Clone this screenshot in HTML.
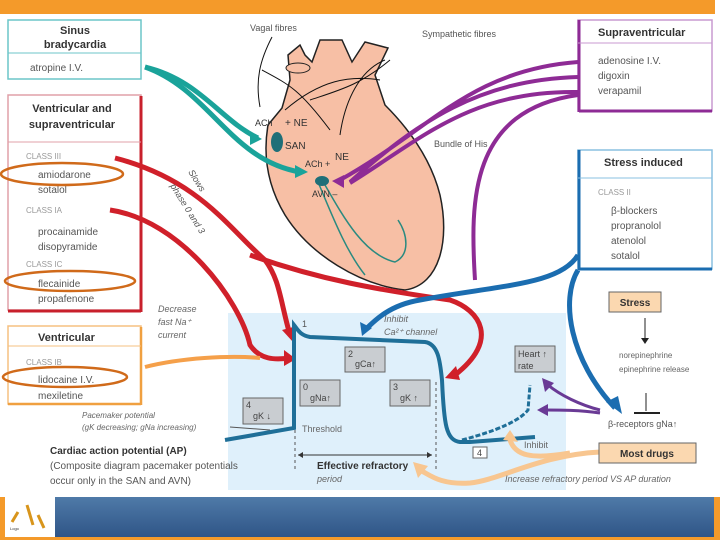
<!DOCTYPE html>
<html><head><meta charset="utf-8"><style>
html,body{margin:0;padding:0;background:#fff}
svg{display:block}
text{font-family:"Liberation Sans",sans-serif;}
</style></head><body>
<svg width="720" height="540" viewBox="0 0 720 540" xmlns="http://www.w3.org/2000/svg">
<defs>
<linearGradient id="bg" x1="0" y1="0" x2="0" y2="1"><stop offset="0" stop-color="#4f7aa8"/><stop offset="1" stop-color="#2f5587"/></linearGradient>
</defs>
<rect x="0" y="0" width="715" height="14" fill="#f49a2a"/>
<rect x="228" y="313" width="338" height="177" fill="#dff0fb"/>
<!-- heart -->
<path d="M268,125 C262,160 270,190 285,215 C310,255 360,285 405,290 C440,285 450,240 440,195 C430,155 405,125 385,105 L375,75 L388,48 L365,42 L352,62 L342,40 L320,40 L312,62 L305,55 L300,45 L288,55 L290,80 L282,108 Z" fill="#f7bfa5" stroke="#222" stroke-width="1.5"/>
<ellipse cx="298" cy="68" rx="12" ry="5" fill="#f7bfa5" stroke="#222"/>
<path d="M318,182 C330,210 345,250 365,275 M325,185 C345,220 365,255 395,262 C410,255 408,235 398,220" fill="none" stroke="#2a8a80" stroke-width="1.5"/>
<path d="M272,37 C260,60 255,80 260,107 M262,70 C290,85 300,90 330,130 M285,110 C320,80 350,75 380,80 M310,100 C340,90 360,85 390,60 M340,135 C345,100 360,70 385,60" fill="none" stroke="#111" stroke-width="1"/>
<ellipse cx="277" cy="142" rx="6" ry="10" fill="#1f6f78"/>
<ellipse cx="322" cy="181" rx="7" ry="5" fill="#1f6f78"/>
<text x="255" y="126" font-size="9" fill="#333">ACh</text>
<text x="285" y="126" font-size="10" fill="#333">+ NE</text>
<text x="285" y="149" font-size="10" fill="#333">SAN</text>
<text x="305" y="167" font-size="9" fill="#333">ACh +</text>
<text x="335" y="160" font-size="10" fill="#333">NE</text>
<text x="312" y="197" font-size="9" fill="#333">AVN  –</text>
<text x="250" y="31" font-size="9" fill="#555">Vagal fibres</text>
<text x="422" y="37" font-size="9" fill="#555">Sympathetic fibres</text>
<text x="434" y="147" font-size="9" fill="#555">Bundle of His</text>
<!-- boxes -->
<rect x="8" y="20" width="133" height="59" fill="#fff" stroke="#6cc6c9" stroke-width="1.5"/>
<line x1="8" y1="53" x2="141" y2="53" stroke="#6cc6c9"/>
<text x="75" y="34" font-size="11" font-weight="bold" text-anchor="middle" fill="#333">Sinus</text>
<text x="75" y="48" font-size="11" font-weight="bold" text-anchor="middle" fill="#333">bradycardia</text>
<text x="30" y="71" font-size="10" fill="#555">atropine I.V.</text>
<rect x="8" y="95" width="133" height="215" fill="#fff" stroke="#e0a0a8" stroke-width="1.5"/>
<line x1="141" y1="96" x2="141" y2="312" stroke="#c8202c" stroke-width="3"/>
<line x1="8" y1="311" x2="141" y2="311" stroke="#c8202c" stroke-width="3"/>
<line x1="8" y1="142" x2="141" y2="142" stroke="#e0a0a8"/>
<text x="72" y="112" font-size="11" font-weight="bold" text-anchor="middle" fill="#333">Ventricular and</text>
<text x="72" y="128" font-size="11" font-weight="bold" text-anchor="middle" fill="#333">supraventricular</text>
<text x="26" y="159" font-size="8" fill="#999">CLASS III</text>
<text x="38" y="178" font-size="10" fill="#555">amiodarone</text>
<text x="38" y="193" font-size="10" fill="#555">sotalol</text>
<text x="26" y="213" font-size="8" fill="#999">CLASS IA</text>
<text x="38" y="235" font-size="10" fill="#555">procainamide</text>
<text x="38" y="250" font-size="10" fill="#555">disopyramide</text>
<text x="26" y="267" font-size="8" fill="#999">CLASS IC</text>
<text x="38" y="287" font-size="10" fill="#555">flecainide</text>
<text x="38" y="302" font-size="10" fill="#555">propafenone</text>
<rect x="8" y="326" width="133" height="78" fill="#fff" stroke="#f5c080" stroke-width="1.5"/>
<line x1="141" y1="327" x2="141" y2="405" stroke="#f0a040" stroke-width="2.5"/>
<line x1="8" y1="404" x2="141" y2="404" stroke="#f0a040" stroke-width="2.5"/>
<line x1="8" y1="346" x2="141" y2="346" stroke="#f5c080"/>
<text x="38" y="341" font-size="11" font-weight="bold" fill="#333">Ventricular</text>
<text x="26" y="365" font-size="8" fill="#999">CLASS IB</text>
<text x="38" y="383" font-size="10" fill="#555">lidocaine I.V.</text>
<text x="38" y="399" font-size="10" fill="#555">mexiletine</text>
<rect x="578" y="20" width="134" height="91" fill="#fff" stroke="#c89ad0" stroke-width="1.5"/>
<line x1="579" y1="20" x2="579" y2="112" stroke="#8e2b95" stroke-width="3"/>
<line x1="579" y1="111" x2="712" y2="111" stroke="#8e2b95" stroke-width="3"/>
<line x1="578" y1="43" x2="712" y2="43" stroke="#c89ad0"/>
<text x="598" y="36" font-size="11" font-weight="bold" fill="#333">Supraventricular</text>
<text x="598" y="64" font-size="10" fill="#555">adenosine I.V.</text>
<text x="598" y="79" font-size="10" fill="#555">digoxin</text>
<text x="598" y="94" font-size="10" fill="#555">verapamil</text>
<rect x="578" y="150" width="134" height="119" fill="#fff" stroke="#8ac0e0" stroke-width="1.5"/>
<line x1="579" y1="150" x2="579" y2="270" stroke="#1b6db0" stroke-width="3"/>
<line x1="579" y1="269" x2="712" y2="269" stroke="#1b6db0" stroke-width="3"/>
<line x1="578" y1="178" x2="712" y2="178" stroke="#8ac0e0"/>
<text x="604" y="166" font-size="11" font-weight="bold" fill="#333">Stress induced</text>
<text x="598" y="195" font-size="8" fill="#999">CLASS II</text>
<text x="611" y="214" font-size="10" fill="#555">β-blockers</text>
<text x="611" y="229" font-size="10" fill="#555">propranolol</text>
<text x="611" y="244" font-size="10" fill="#555">atenolol</text>
<text x="611" y="259" font-size="10" fill="#555">sotalol</text>
<!-- connectors -->
<path d="M145,67 C200,80 220,120 258,138" fill="none" stroke="#1aa39a" stroke-width="5"/>
<path d="M145,67 C210,90 230,160 300,172" fill="none" stroke="#1aa39a" stroke-width="5"/>
<path d="M250,132 L262,139 L250,145z M295,165 L308,172 L295,178z" fill="#1aa39a"/>
<path d="M578,62 C470,70 430,130 340,180 M578,77 C480,80 420,120 350,182 M578,92 C470,90 420,140 350,183 M578,95 C470,110 470,200 475,280" fill="none" stroke="#8e2b95" stroke-width="4"/>
<path d="M344,175 L332,181 L344,188z" fill="#8e2b95"/>
<path d="M115,158 C200,180 230,230 265,260 C280,280 280,300 290,335" fill="none" stroke="#d0202a" stroke-width="5"/>
<path d="M110,210 C180,220 240,300 250,345 C260,360 275,360 290,358" fill="none" stroke="#d0202a" stroke-width="5"/>
<path d="M250,255 C320,280 380,290 450,300 C480,310 500,340 455,375" fill="none" stroke="#d0202a" stroke-width="5"/>
<path d="M282,330 L293,342 L297,326z M284,350 L296,359 L284,366z M456,366 L445,378 L460,380z" fill="#d0202a"/>
<text x="188" y="172" font-size="9" fill="#555" font-style="italic" transform="rotate(58 188 172)">Slows</text>
<text x="170" y="186" font-size="9" fill="#555" font-style="italic" transform="rotate(58 170 186)">phase 0 and 3</text>
<path d="M578,255 C560,285 500,285 420,300 C390,305 375,320 365,330" fill="none" stroke="#1b6db0" stroke-width="5"/>
<path d="M360,322 L362,336 L372,328z" fill="#1b6db0"/>
<path d="M578,270 C560,300 570,360 615,408" fill="none" stroke="#1b6db0" stroke-width="5"/>
<path d="M606,402 L622,414 L618,396z" fill="#1b6db0"/>
<path d="M145,367 C180,358 230,355 260,358" fill="none" stroke="#f5a04a" stroke-width="4"/>
<text x="158" y="312" font-size="9" fill="#666" font-style="italic">Decrease</text>
<text x="158" y="325" font-size="9" fill="#666" font-style="italic">fast Na⁺</text>
<text x="158" y="338" font-size="9" fill="#666" font-style="italic">current</text>
<!-- AP curve -->
<path d="M225,440 L294,428 L294,325 C298,330 300,335 310,337 L425,342 C438,344 440,360 442,380 C444,425 446,440 460,442 L470,442 L535,437" fill="none" stroke="#1f6f98" stroke-width="4"/>
<path d="M462,440 C500,430 520,420 528,410 L530,385" fill="none" stroke="#1f6f98" stroke-width="3" stroke-dasharray="5,2"/>
<text x="302" y="327" font-size="9" fill="#555">1</text>
<text x="384" y="322" font-size="9" fill="#666" font-style="italic">Inhibit</text>
<text x="384" y="335" font-size="9" fill="#666" font-style="italic">Ca²⁺ channel</text>
<g font-size="9" fill="#444">
<rect x="345" y="347" width="40" height="25" fill="#c9cdd1" stroke="#666"/><text x="348" y="357">2</text><text x="355" y="367">gCa↑</text>
<rect x="300" y="380" width="40" height="26" fill="#c9cdd1" stroke="#666"/><text x="303" y="390">0</text><text x="310" y="401">gNa↑</text>
<rect x="390" y="380" width="40" height="26" fill="#c9cdd1" stroke="#666"/><text x="393" y="390">3</text><text x="400" y="401">gK ↑</text>
<rect x="243" y="398" width="40" height="26" fill="#c9cdd1" stroke="#666"/><text x="246" y="408">4</text><text x="253" y="419">gK ↓</text>
<rect x="515" y="346" width="40" height="26" fill="#c9cdd1" stroke="#666"/><text x="518" y="357">Heart ↑</text><text x="518" y="369">rate</text>
<rect x="473" y="447" width="14" height="11" fill="#fff" stroke="#666"/><text x="477" y="456">4</text>
</g>
<text x="302" y="432" font-size="9" fill="#666">Threshold</text>
<line x1="295" y1="430" x2="295" y2="472" stroke="#555" stroke-dasharray="3,3"/>
<line x1="436" y1="382" x2="436" y2="472" stroke="#555" stroke-dasharray="3,3"/>
<path d="M298,455 L432,455" stroke="#333" stroke-width="1"/>
<path d="M298,455 l5,-3 v6z M432,455 l-5,-3 v6z" fill="#333"/>
<text x="317" y="469" font-size="10" font-weight="bold" fill="#333">Effective refractory</text>
<text x="317" y="482" font-size="9" fill="#666" font-style="italic">period</text>
<text x="524" y="448" font-size="9" fill="#666">Inhibit</text>
<path d="M600,452 C540,455 500,480 470,483 C440,485 430,475 420,470" fill="none" stroke="#f8c690" stroke-width="5"/>
<path d="M570,453 C530,460 515,455 510,440" fill="none" stroke="#f8c690" stroke-width="5"/>
<path d="M413,462 L418,478 L428,466z M503,440 L510,430 L518,442z" fill="#f8c690"/>
<path d="M600,410 C580,405 560,395 548,385 M600,413 C580,410 560,410 545,410" fill="none" stroke="#6a3a95" stroke-width="3"/>
<path d="M542,378 L545,392 L554,383z M537,410 L548,404 L548,416z" fill="#6a3a95"/>
<text x="505" y="482" font-size="9" fill="#666" font-style="italic">Increase refractory period VS AP duration</text>
<rect x="609" y="292" width="52" height="20" fill="#fbd8b0" stroke="#666"/>
<text x="635" y="306" font-size="10" font-weight="bold" text-anchor="middle" fill="#333">Stress</text>
<line x1="645" y1="318" x2="645" y2="340" stroke="#222"/><path d="M641,338 L645,344 L649,338z" fill="#222"/>
<text x="619" y="358" font-size="8" fill="#666">norepinephrine</text>
<text x="619" y="372" font-size="8" fill="#666">epinephrine release</text>
<line x1="646" y1="393" x2="646" y2="411" stroke="#222"/><line x1="634" y1="413" x2="660" y2="413" stroke="#222" stroke-width="2"/>
<text x="608" y="427" font-size="9" fill="#555">β-receptors gNa↑</text>
<rect x="599" y="443" width="97" height="20" fill="#fbd8b0" stroke="#666"/>
<text x="647" y="457" font-size="10" font-weight="bold" text-anchor="middle" fill="#333">Most drugs</text>
<text x="82" y="418" font-size="8" fill="#666" font-style="italic">Pacemaker potential</text>
<text x="82" y="430" font-size="8" fill="#666" font-style="italic">(gK decreasing; gNa increasing)</text>
<line x1="230" y1="427" x2="270" y2="430" stroke="#555"/>
<text x="50" y="454" font-size="10" font-weight="bold" fill="#333">Cardiac action potential (AP)</text>
<text x="50" y="469" font-size="10" fill="#555">(Composite diagram pacemaker potentials</text>
<text x="50" y="484" font-size="10" fill="#555">occur only in the SAN and AVN)</text>
<g fill="none" stroke="#d06a1a" stroke-width="2.5">
<ellipse cx="62" cy="174" rx="61" ry="11"/>
<ellipse cx="70" cy="281" rx="65" ry="10"/>
<ellipse cx="65" cy="377" rx="62" ry="10"/>
</g>
<rect x="0" y="497" width="720" height="43" fill="#f49a2a"/>
<rect x="55" y="497" width="659" height="40" fill="url(#bg)"/>
<rect x="5" y="497" width="50" height="40" fill="#fff"/>
<path d="M12,522 L18,512 M27,505 L33,525 M38,515 L44,528" stroke="#d8951c" stroke-width="3"/>
<text x="10" y="530" font-size="4" fill="#333">Logo</text>
</svg>
</body></html>
